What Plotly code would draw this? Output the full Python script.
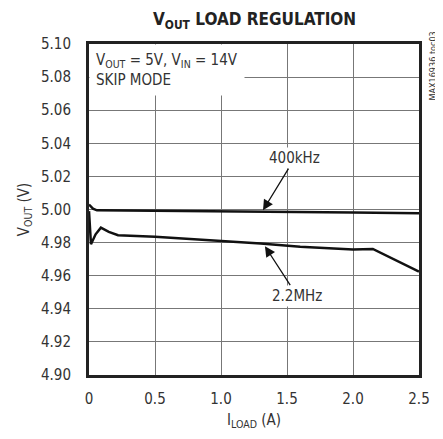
import plotly.graph_objects as go

# 400kHz curve
i_400 = [0.0, 0.01, 0.03, 0.06, 0.5, 1.0, 1.5, 2.0, 2.5]
v_400 = [5.003, 5.002, 5.0005, 4.9995, 4.9993, 4.9990, 4.9985, 4.9982, 4.9978]

# 2.2MHz curve
i_22 = [0.0, 0.015, 0.05, 0.09, 0.15, 0.22, 0.5, 1.0, 1.3, 1.6, 2.0, 2.15, 2.3, 2.5]
v_22 = [4.999, 4.979, 4.985, 4.9890, 4.9865, 4.9845, 4.9835, 4.9810, 4.9795, 4.9775, 4.9758, 4.9762, 4.9705, 4.9625]

x_ticks = [0, 0.5, 1.0, 1.5, 2.0, 2.5]
x_labels = ["0", "0.5", "1.0", "1.5", "2.0", "2.5"]
y_ticks = [4.90, 4.92, 4.94, 4.96, 4.98, 5.00, 5.02, 5.04, 5.06, 5.08, 5.10]
y_labels = [f"{v:.2f}" for v in y_ticks]

FONT = "DejaVu Sans Condensed, Liberation Sans, sans-serif"
TXT = "#333"

fig = go.Figure()
fig.add_trace(go.Scatter(x=i_400, y=v_400, mode="lines", line=dict(color="#111", width=2.5)))
fig.add_trace(go.Scatter(x=i_22, y=v_22, mode="lines", line=dict(color="#111", width=2.5)))

fig.update_xaxes(
    range=[0, 2.5], tickvals=x_ticks, ticktext=x_labels,
    showgrid=True, gridcolor="#777", gridwidth=1.3,
    showline=True, linecolor="#222", linewidth=3, mirror=True,
    zeroline=False, ticks="outside", ticklen=8, tickcolor="rgba(0,0,0,0)",
    automargin=False,
    tickfont=dict(family=FONT, size=15, color=TXT),
    title=dict(text="I<sub>LOAD</sub> (A)", font=dict(family=FONT, size=15, color=TXT), standoff=8),
)
fig.update_yaxes(
    range=[4.90, 5.10], tickvals=y_ticks, ticktext=y_labels,
    showgrid=True, gridcolor="#777", gridwidth=1.3,
    showline=True, linecolor="#222", linewidth=3, mirror=True,
    zeroline=False, ticks="outside", ticklen=12, tickcolor="rgba(0,0,0,0)",
    automargin=False,
    tickfont=dict(family=FONT, size=15, color=TXT),
    title=dict(text="V<sub>OUT</sub> (V)", font=dict(family=FONT, size=15, color=TXT), standoff=8),
)

fig.add_annotation(
    xref="paper", yref="paper", x=0.0, y=1.0, xanchor="left", yanchor="top",
    text="V<sub>OUT</sub> = 5V, V<sub>IN</sub> = 14V<br>SKIP MODE", align="left",
    showarrow=False, bgcolor="white", borderpad=6,
    font=dict(family=FONT, size=15, color=TXT),
)

fig.add_annotation(
    x=1.318, y=4.9995, ax=1.56, ay=5.031, xref="x", yref="y", axref="x", ayref="y",
    text="400kHz", showarrow=True, arrowhead=2, arrowsize=1.6, arrowwidth=1.3, arrowcolor="#111",
    bgcolor="white", font=dict(family=FONT, size=15, color=TXT),
)
fig.add_annotation(
    x=1.333, y=4.9778, ax=1.576, ay=4.948, xref="x", yref="y", axref="x", ayref="y",
    text="2.2MHz", showarrow=True, arrowhead=2, arrowsize=1.6, arrowwidth=1.3, arrowcolor="#111",
    bgcolor="white", font=dict(family=FONT, size=15, color=TXT),
)

fig.add_annotation(
    xref="paper", yref="paper", x=0.5, y=1.0, yshift=10, xanchor="center", yanchor="bottom",
    text="<b>V<sub>OUT</sub> LOAD REGULATION</b>", showarrow=False,
    font=dict(family=FONT, size=17, color="#222"),
)
fig.add_annotation(
    xref="paper", yref="paper", x=1.0, y=1.0, xshift=13, yshift=14, xanchor="center", yanchor="top",
    text="MAX16936 toc03", textangle=-90, showarrow=False,
    font=dict(family=FONT, size=9, color=TXT),
)

# page body adds an 8px offset, so the figure is shrunk to match the window
fig.update_layout(
    width=435, height=431,
    margin=dict(l=81, r=24, t=36, b=64),
    plot_bgcolor="white", paper_bgcolor="white",
    showlegend=False,
)

fig.write_html("out.html")
